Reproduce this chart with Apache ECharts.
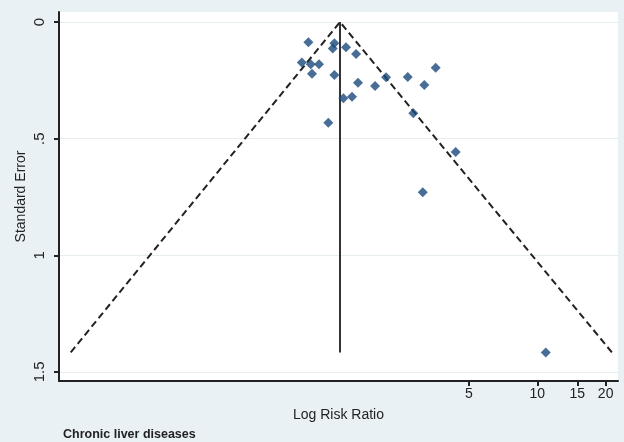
<!DOCTYPE html>
<html>
<head>
<meta charset="utf-8">
<script src="https://cdn.jsdelivr.net/npm/echarts@6/dist/echarts.min.js"></script>
<style>
  html, body { margin: 0; padding: 0; background: #e9f1f5; }
  #main { width: 624px; height: 442px; }
</style>
</head>
<body>
<div id="main"></div>
<script>
// study estimates: risk ratio and its standard error
var riskRatio = [0.98, 1.276, 1.255, 1.436, 1.59, 0.917, 1.004, 1.092, 1.017, 1.276, 1.622,
  1.398, 1.526, 1.2, 2.156, 2.686, 3.567, 1.928, 3.178, 2.843, 4.37, 3.128, 10.89]
var stdError = [0.087, 0.091, 0.114, 0.108, 0.137, 0.173, 0.181, 0.181, 0.222, 0.227, 0.26,
  0.327, 0.32, 0.432, 0.237, 0.236, 0.196, 0.274, 0.27, 0.391, 0.557, 0.73, 1.417]

// pooled estimate line and pseudo 95% limits
var pooledRR = [1.351, 1.351]
var pooledSE = [0, 1.417]
var funnelRR = [0.088, 1.351, 21.3]
var funnelSE = [1.416, 0, 1.416]

var xTicks = [5, 10, 15, 20]
var yTicks = [0, 0.5, 1, 1.5]
var yTickLabels = ['0', '.5', '1', '1.5']

function pairs (xs, ys) {
  return xs.map(function (v, i) { return [Math.log10(v), ys[i]] })
}

var chart = echarts.init(document.getElementById('main'))
var option = {
  backgroundColor: '#e9f1f5',
  animation: false,
  title: {
    text: 'Chronic liver diseases',
    left: 63,
    top: 428,
    padding: 0,
    textStyle: { fontFamily: 'Liberation Sans', fontSize: 12.5, fontWeight: 'bold', color: '#222' }
  },
  grid: {
    left: 59,
    right: 6,
    top: 12,
    bottom: 61,
    show: true,
    backgroundColor: '#ffffff',
    borderWidth: 0
  },
  xAxis: {
    type: 'value',
    min: Math.log10(0.0781),
    max: Math.log10(22.67),
    name: 'Log Risk Ratio',
    nameLocation: 'middle',
    nameGap: 27,
    nameTextStyle: { fontFamily: 'Liberation Sans', fontSize: 14, color: '#222' },
    axisLine: { onZero: false, lineStyle: { color: '#222', width: 2 } },
    axisTick: { customValues: xTicks.map(Math.log10), length: 5, lineStyle: { color: '#222', width: 2 } },
    axisLabel: {
      customValues: xTicks.map(Math.log10),
      margin: 6,
      fontFamily: 'Liberation Sans',
      fontSize: 14,
      color: '#222',
      formatter: function (v) { return String(Math.round(Math.pow(10, v))) }
    },
    splitLine: { show: false }
  },
  yAxis: {
    type: 'value',
    inverse: true,
    min: -0.043,
    max: 1.539,
    name: 'Standard Error',
    nameLocation: 'middle',
    nameGap: 31,
    nameMoveOverlap: false,
    nameTextStyle: { fontFamily: 'Liberation Sans', fontSize: 14, color: '#222' },
    axisLine: { onZero: false, lineStyle: { color: '#222', width: 2 } },
    axisTick: { customValues: yTicks, length: 5, lineStyle: { color: '#222', width: 2 } },
    axisLabel: {
      customValues: yTicks,
      rotate: 90,
      margin: 12,
      fontFamily: 'Liberation Sans',
      fontSize: 15,
      color: '#222',
      formatter: function (v) { return yTickLabels[yTicks.indexOf(v)] }
    },
    splitLine: { show: true, lineStyle: { color: '#e6eded', width: 1 } }
  },
  series: [
    {
      type: 'line',
      data: pairs(funnelRR, funnelSE),
      symbol: 'none',
      lineStyle: { color: '#222', width: 2, type: [7, 4] },
      z: 2
    },
    {
      type: 'line',
      data: pairs(pooledRR, pooledSE),
      symbol: 'none',
      lineStyle: { color: '#333', width: 2 },
      z: 2
    },
    {
      type: 'scatter',
      data: pairs(riskRatio, stdError),
      symbol: 'diamond',
      symbolSize: 10,
      itemStyle: { color: '#1a4a7d' },
      z: 3
    }
  ]
}
chart.setOption(option)
</script>
</body>
</html>
